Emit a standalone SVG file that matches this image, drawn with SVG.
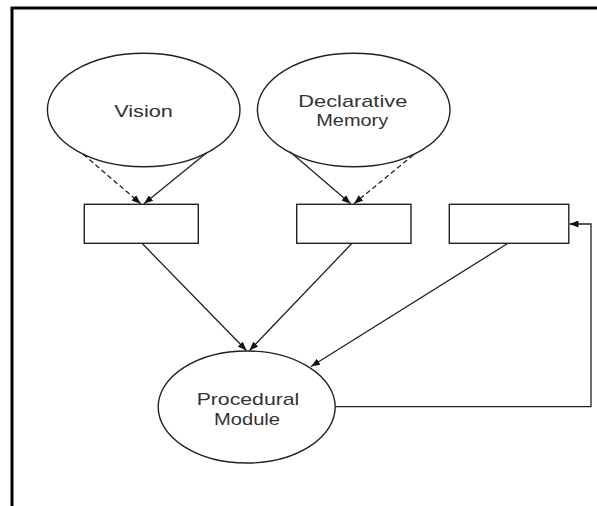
<svg xmlns="http://www.w3.org/2000/svg" width="597" height="506" viewBox="0 0 597 506">
<style>
.shape{fill:#fff;stroke:#222;stroke-width:1.4}
.edge{fill:none;stroke:#222;stroke-width:1.3}
.dash{stroke-dasharray:5 3}
.lbl{font-family:"Liberation Sans",Arial,sans-serif;font-size:17px;fill:#333;text-anchor:middle}
</style>
<defs>
<marker id="arr" markerUnits="userSpaceOnUse" markerWidth="9" markerHeight="7" refX="9" refY="3.5" orient="auto">
<path d="M0,0 L9,3.5 L0,7 z" fill="#111"/>
</marker>
</defs>
<rect width="597" height="506" fill="#fff"/>
<g id="frame">
<path d="M12,506 V8 H597" fill="none" stroke="#000" stroke-width="3"/>
</g>
<g id="vision">
<ellipse class="shape" cx="143.7" cy="110" rx="96.3" ry="56.7"/>
<text class="lbl" x="143.5" y="117.3" textLength="58.7" lengthAdjust="spacingAndGlyphs">Vision</text>
</g>
<g id="declarative">
<ellipse class="shape" cx="353.7" cy="110" rx="96.3" ry="56.7"/>
<text class="lbl" x="352.8" y="106.7" textLength="109" lengthAdjust="spacingAndGlyphs">Declarative</text>
<text class="lbl" x="352.2" y="126" textLength="72" lengthAdjust="spacingAndGlyphs">Memory</text>
</g>
<g id="buffer1"><rect class="shape" x="84.3" y="204.3" width="114" height="39"/></g>
<g id="buffer2"><rect class="shape" x="296.7" y="204.3" width="114.3" height="39"/></g>
<g id="buffer3"><rect class="shape" x="449.3" y="204.3" width="119.5" height="39"/></g>
<g id="procedural">
<ellipse class="shape" cx="246.7" cy="407" rx="88.5" ry="56"/>
<text class="lbl" x="248" y="405" textLength="102.7" lengthAdjust="spacingAndGlyphs">Procedural</text>
<text class="lbl" x="247" y="425" textLength="66" lengthAdjust="spacingAndGlyphs">Module</text>
</g>
<g id="connectors">
<line class="edge dash" x1="83.3" y1="154.3" x2="140.7" y2="203.7" marker-end="url(#arr)"/>
<line class="edge" x1="206.7" y1="152.7" x2="144" y2="203.7" marker-end="url(#arr)"/>
<line class="edge" x1="290" y1="151.7" x2="350.7" y2="203.7" marker-end="url(#arr)"/>
<line class="edge dash" x1="413.3" y1="155" x2="354" y2="203.7" marker-end="url(#arr)"/>
<line class="edge" x1="142" y1="243.3" x2="246.5" y2="350.5" marker-end="url(#arr)"/>
<line class="edge" x1="352" y1="243.3" x2="249.5" y2="350.5" marker-end="url(#arr)"/>
<line class="edge" x1="508" y1="243.3" x2="311" y2="366.5" marker-end="url(#arr)"/>
<polyline class="edge" points="335.2,406.7 591,406.7 591,224 569.5,224" marker-end="url(#arr)"/>
</g>
</svg>
